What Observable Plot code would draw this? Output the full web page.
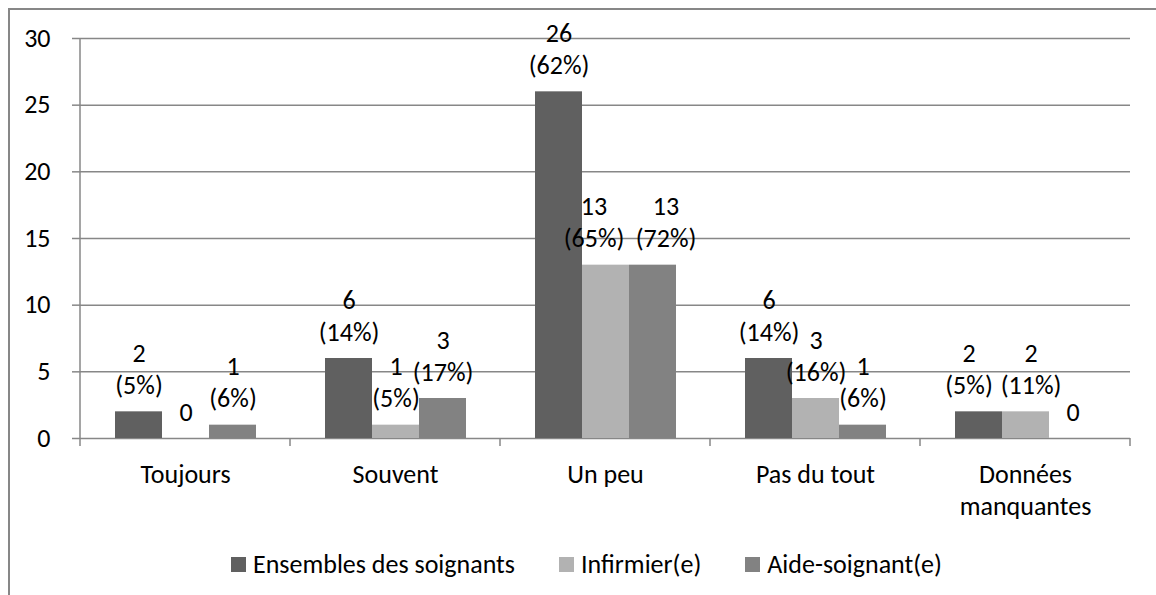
<!DOCTYPE html>
<html>
<head>
<meta charset="utf-8">
<script src="https://cdn.jsdelivr.net/npm/d3@7"></script>
<script src="https://cdn.jsdelivr.net/npm/@observablehq/plot@0.6"></script>
<style>
  body { margin: 0; background: #fff; }
  #wrap { position: relative; width: 1156px; height: 595px; overflow: hidden; font-family: Carlito, Lato, sans-serif; }
  #border { position: absolute; left: 8px; top: 8px; width: 1300px; height: 800px; border-left: 2px solid #878787; border-top: 2px solid #878787; }
  #chart { position: absolute; left: 0; top: 0; }
  #legend { position: absolute; left: 231px; top: 548px; display: flex; align-items: center; font-size: 26px; line-height: 32px; color: #000; }
  .item { display: flex; align-items: center; margin-right: 44px; }
  .sw { width: 15px; height: 15px; margin-right: 7px; }
</style>
</head>
<body>
<div id="wrap"><div id="border"></div><div id="chart"></div><div id="legend"></div></div>
<script>
const categories = ["Toujours", "Souvent", "Un peu", "Pas du tout", "Données manquantes"];
const categoryLabels = ["Toujours", "Souvent", "Un peu", "Pas du tout", "Données\nmanquantes"];
const series = ["Ensembles des soignants", "Infirmier(e)", "Aide-soignant(e)"];
const seriesColors = ["#606060", "#b2b2b2", "#828282"];
const ensembles = [2, 6, 26, 6, 2];
const ensemblesPct = ["5%", "14%", "62%", "14%", "5%"];
const infirmier = [0, 1, 13, 3, 2];
const infirmierPct = [null, "5%", "65%", "16%", "11%"];
const aide = [1, 3, 13, 1, 0];
const aidePct = ["6%", "17%", "72%", "6%", null];
const yTicks = [0, 5, 10, 15, 20, 25, 30];

const values = [ensembles, infirmier, aide];
const pcts = [ensemblesPct, infirmierPct, aidePct];
const rows = [];
categories.forEach((c, i) => series.forEach((s, j) => {
  const v = values[j][i], p = pcts[j][i];
  rows.push({cat: c, series: s, value: v, label: p ? `${v}\n(${p})` : `${v}`});
}));

// labels that sit next to each other are nudged apart, as in the original
const is = (c, s) => r => r.cat === c && r.series === s;
const nudges = [
  {test: is("Un peu", series[1]), dx: -12},
  {test: is("Un peu", series[2]), dx: 13},
  {test: is("Données manquantes", series[0]), dx: -10},
  {test: is("Données manquantes", series[1]), dx: 5}
];
const plain = r => !nudges.some(n => n.test(r));

const grid = "#878787";
const FS = 26;
const textOpts = {fx: "cat", x: "series", y: "value", text: "label", lineAnchor: "bottom", lineHeight: 1.23, dy: -18, fill: "#000", fontSize: FS};
const plot = Plot.plot({
  width: 1156, height: 530,
  marginLeft: 78, marginRight: 24, marginTop: 38, marginBottom: 92,
  style: {fontFamily: "Carlito, Lato, sans-serif", fontSize: FS + "px", color: "#000", background: "transparent", overflow: "visible"},
  fx: {domain: categories, padding: 0, axis: null, label: null},
  x: {domain: series, paddingInner: 0, paddingOuter: 0.72, axis: null, label: null},
  y: {domain: [0, 30], axis: null, label: null},
  color: {domain: series, range: seriesColors},
  marks: [
    Plot.ruleY(yTicks, {stroke: grid, strokeWidth: 1.5}),
    Plot.axisY({ticks: yTicks, label: null, tickSize: 8, tickPadding: 22, stroke: grid, strokeWidth: 1.5, fill: "#000", fontSize: FS}),
    Plot.axisFx({anchor: "bottom", label: null, tickSize: 0, tickPadding: 22, lineHeight: 1.23, fill: "#000", fontSize: FS,
      tickFormat: d => categoryLabels[categories.indexOf(d)]}),
    Plot.barY(rows, {fx: "cat", x: "series", y: "value", fill: "series"}),
    Plot.text(rows.filter(plain), textOpts),
    ...nudges.map(n => Plot.text(rows.filter(n.test), {...textOpts, dx: n.dx}))
  ]
});
document.getElementById("chart").appendChild(plot);

// axis line and category boundary ticks using the plot's own scales
const fx = plot.scale("fx"), y = plot.scale("y");
const svg = d3.select(plot);
const y0 = y.apply(0), y30 = y.apply(30);
const left = fx.apply(categories[0]);
const g = svg.append("g").attr("stroke", grid).attr("stroke-width", 1.5);
g.append("line").attr("x1", left).attr("x2", left).attr("y1", y30).attr("y2", y0 + 8);
categories.forEach(c => {
  const b = fx.apply(c) + fx.bandwidth;
  g.append("line").attr("x1", b).attr("x2", b).attr("y1", y0).attr("y2", y0 + 8);
});

const legend = document.getElementById("legend");
series.forEach((s, j) => {
  const it = document.createElement("div");
  it.className = "item";
  it.innerHTML = `<div class="sw" style="background:${seriesColors[j]}"></div><span>${s}</span>`;
  legend.appendChild(it);
});
</script>
</body>
</html>
